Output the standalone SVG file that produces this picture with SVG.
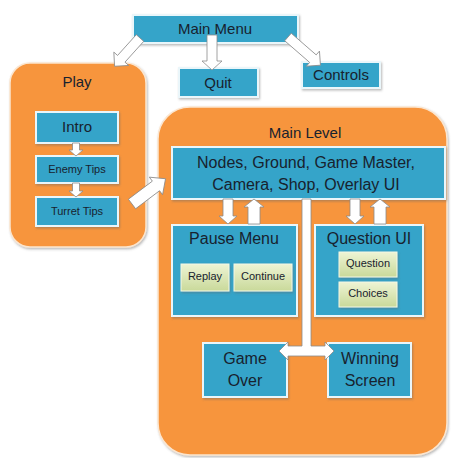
<svg xmlns="http://www.w3.org/2000/svg" width="452" height="458" viewBox="0 0 452 458">
<defs>
<filter id="sh" x="-10%" y="-10%" width="120%" height="130%">
<feDropShadow dx="1" dy="1.5" stdDeviation="1" flood-color="#666" flood-opacity="0.45"/>
</filter>
<linearGradient id="gr" x1="0" y1="0" x2="0" y2="1">
<stop offset="0" stop-color="#eef4d4"/>
<stop offset="1" stop-color="#c9d99a"/>
</linearGradient>
</defs>
<style>
.org{fill:#f7953e;stroke:#fbe6d0;stroke-width:1.5;filter:url(#sh)}
.blu{fill:#35a4c9;stroke:#eaf6fa;stroke-width:2;filter:url(#sh)}
.grn{fill:url(#gr);stroke:#f4f8e6;stroke-width:1;filter:url(#sh)}
.arr{fill:#fff;stroke:#8a8a8a;stroke-width:0.8;stroke-linejoin:miter}
text{font-family:"Liberation Sans",Arial,sans-serif;fill:#18222e;text-anchor:middle}
.t15{font-size:15px}
.t16{font-size:16px}
.t11{font-size:11px}
</style>
<rect width="452" height="458" fill="#ffffff"/>

<g id="play">
<rect class="org" x="10" y="63" width="136" height="184" rx="20"/>
<text class="t15" x="77" y="87">Play</text>
</g>
<g id="main-level">
<rect class="org" x="158" y="107" width="289" height="348" rx="32"/>
<text class="t15" x="305" y="138">Main Level</text>
</g>

<g id="main-menu">
<rect class="blu" x="133" y="15" width="165" height="28"/>
<text class="t15" x="215" y="34">Main Menu</text>
</g>
<g id="quit">
<rect class="blu" x="179" y="68" width="79" height="29"/>
<text class="t15" x="218" y="88">Quit</text>
</g>
<g id="controls">
<rect class="blu" x="302" y="62" width="78" height="26"/>
<text class="t15" x="341" y="80">Controls</text>
</g>

<g id="intro">
<rect class="blu" x="36" y="112" width="82" height="31"/>
<text class="t15" x="77" y="132">Intro</text>
</g>
<g id="enemy-tips">
<rect class="blu" x="36" y="156" width="82" height="27"/>
<text class="t11" x="77" y="173">Enemy Tips</text>
</g>
<g id="turret-tips">
<rect class="blu" x="36" y="197" width="82" height="29"/>
<text class="t11" x="77" y="215">Turret Tips</text>
</g>

<g id="core">
<rect class="blu" x="172" y="147" width="273" height="52"/>
<text class="t16" x="306" y="168">Nodes, Ground, Game Master,</text>
<text class="t16" x="306" y="190">Camera, Shop, Overlay UI</text>
</g>

<g id="pause-menu">
<rect class="blu" x="172" y="225" width="125" height="91"/>
<text class="t16" x="234" y="244">Pause Menu</text>
</g>
<g id="replay">
<rect class="grn" x="181" y="264" width="48" height="27"/>
<text class="t11" x="205" y="280">Replay</text>
</g>
<g id="continue">
<rect class="grn" x="234" y="264" width="58" height="27"/>
<text class="t11" x="263" y="280">Continue</text>
</g>

<g id="question-ui">
<rect class="blu" x="315" y="225" width="108" height="91"/>
<text class="t16" x="369" y="244">Question UI</text>
</g>
<g id="question">
<rect class="grn" x="339" y="252" width="58" height="25"/>
<text class="t11" x="368" y="267">Question</text>
</g>
<g id="choices">
<rect class="grn" x="339" y="282" width="58" height="25"/>
<text class="t11" x="368" y="297">Choices</text>
</g>

<g id="game-over">
<rect class="blu" x="203" y="343" width="84" height="54"/>
<text class="t16" x="245" y="364">Game</text>
<text class="t16" x="245" y="386">Over</text>
</g>
<g id="winning-screen">
<rect class="blu" x="328" y="343" width="83" height="54"/>
<text class="t16" x="370" y="364">Winning</text>
<text class="t16" x="370" y="386">Screen</text>
</g>

<g id="connectors">
<!-- Main Menu -> Play -->
<polygon class="arr" transform="translate(140,38) rotate(132)" points="0,-5 28,-5 28,-10 38,0 28,10 28,5 0,5"/>
<!-- Main Menu -> Quit -->
<polygon class="arr" transform="translate(212,35) rotate(90)" points="0,-5 26,-5 26,-10 35,0 26,10 26,5 0,5"/>
<!-- Main Menu -> Controls -->
<polygon class="arr" transform="translate(288,37) rotate(41)" points="0,-5 33,-5 33,-10 43,0 33,10 33,5 0,5"/>
<!-- Intro -> Enemy Tips -->
<polygon class="arr" transform="translate(76,143) rotate(90)" points="0,-3.5 7,-3.5 7,-7 13,0 7,7 7,3.5 0,3.5"/>
<!-- Enemy Tips -> Turret Tips -->
<polygon class="arr" transform="translate(76,183) rotate(90)" points="0,-3.5 8,-3.5 8,-7 14,0 8,7 8,3.5 0,3.5"/>
<!-- Play -> Main Level -->
<polygon class="arr" transform="translate(132,204) rotate(-37)" points="0,-6 30,-6 30,-11 42,0 30,11 30,6 0,6"/>
<!-- Core <-> Pause Menu -->
<polygon class="arr" transform="translate(228,199) rotate(90)" points="0,-5 17,-5 17,-9 25,0 17,9 17,5 0,5"/>
<polygon class="arr" transform="translate(254,224) rotate(-90)" points="0,-6 17,-6 17,-10 25,0 17,10 17,6 0,6"/>
<!-- Core <-> Question UI -->
<polygon class="arr" transform="translate(355,199) rotate(90)" points="0,-5 17,-5 17,-9 25,0 17,9 17,5 0,5"/>
<polygon class="arr" transform="translate(380,224) rotate(-90)" points="0,-6 17,-6 17,-10 25,0 17,10 17,6 0,6"/>
<!-- Core -> Game Over / Winning Screen -->
<polygon class="arr" points="302,199 311,199 311,346 325,346 325,342 334,351 325,360 325,356 288,356 288,360 279,351 288,342 288,346 302,346"/>
</g>
</svg>
